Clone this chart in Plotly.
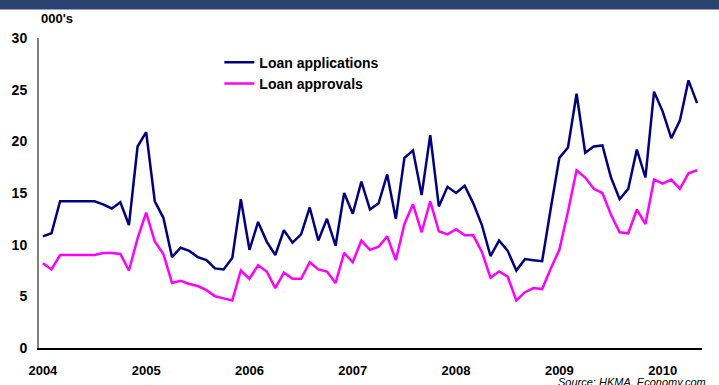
import plotly.graph_objects as go
import pandas as pd

# Monthly data, Jan 2004 - May 2010 (thousands)
months = [d.strftime("%Y-%m") for d in pd.date_range("2004-01-01", "2010-05-01", freq="MS")]

loan_applications = [10.8, 11.1, 14.2, 14.2, 14.2, 14.2, 14.2, 13.9, 13.5, 14.1,
                     11.9, 19.5, 20.9, 14.2, 12.6, 8.8, 9.7, 9.4, 8.8, 8.5,
                     7.7, 7.6, 8.7, 14.4, 9.5, 12.2, 10.3, 9.0, 11.4, 10.2,
                     11.0, 13.6, 10.4, 12.5, 9.9, 15.0, 13.0, 16.1, 13.4, 14.0,
                     16.8, 12.5, 18.4, 19.1, 14.8, 20.6, 13.7, 15.6, 15.0, 15.7,
                     14.0, 11.9, 8.9, 10.4, 9.4, 7.5, 8.6, 8.5, 8.4, 13.5,
                     18.4, 19.4, 24.6, 18.9, 19.5, 19.6, 16.5, 14.4, 15.4, 19.2,
                     16.5, 24.8, 22.9, 20.3, 22.0, 25.9, 23.7]

loan_approvals = [8.2, 7.6, 9.0, 9.0, 9.0, 9.0, 9.0, 9.2, 9.2, 9.1,
                  7.5, 10.6, 13.1, 10.3, 9.1, 6.3, 6.5, 6.2, 6.0, 5.6,
                  5.0, 4.8, 4.6, 7.5, 6.7, 8.0, 7.4, 5.8, 7.3, 6.7,
                  6.7, 8.3, 7.6, 7.4, 6.3, 9.2, 8.3, 10.4, 9.5, 9.8,
                  10.8, 8.5, 12.0, 13.9, 11.2, 14.2, 11.3, 11.0, 11.5, 10.9,
                  10.9, 9.3, 6.8, 7.4, 6.9, 4.6, 5.4, 5.8, 5.7, 7.7,
                  9.5, 13.2, 17.2, 16.5, 15.4, 15.0, 12.9, 11.2, 11.1, 13.4,
                  12.0, 16.3, 15.9, 16.3, 15.4, 16.9, 17.2]

year_ticks = ["2004-01", "2005-01", "2006-01", "2007-01", "2008-01", "2009-01", "2010-01"]
year_labels = ["2004", "2005", "2006", "2007", "2008", "2009", "2010"]
y_ticks = [0, 5, 10, 15, 20, 25, 30]

FONT = "Liberation Sans, Arial, sans-serif"

fig = go.Figure()
fig.add_trace(go.Scatter(x=months, y=loan_applications, mode="lines",
                         name="Loan applications",
                         line=dict(color="#000080", width=2.5)))
fig.add_trace(go.Scatter(x=months, y=loan_approvals, mode="lines",
                         name="Loan approvals",
                         line=dict(color="#FF00FF", width=2.5)))

fig.update_layout(
    width=719, height=385,
    margin=dict(l=39, r=17, t=38, b=37, autoexpand=False),
    paper_bgcolor="white", plot_bgcolor="white",
    font=dict(family=FONT, color="black"),
    showlegend=True,
    legend=dict(x=0.272, y=0.972, xanchor="left", yanchor="top",
                bgcolor="rgba(0,0,0,0)",
                font=dict(family=FONT, size=14, color="black", weight="bold"),
                tracegroupgap=0, itemwidth=30),
    shapes=[dict(type="rect", xref="paper", yref="paper",
                 x0=-0.1, x1=1.1, y0=(348 - 9.5) / 310, y1=1.3,
                 fillcolor="#2B4370", line=dict(width=0), layer="above")],
    annotations=[
        dict(text="000's", xref="paper", yref="paper", x=0.0, y=(348 - 18) / 310,
             xanchor="left", yanchor="middle", showarrow=False,
             font=dict(family=FONT, size=13, color="black", weight="bold")),
        dict(text="<i>Source: HKMA, Economy.com</i>", xref="paper", yref="paper",
             x=(708 - 39) / 663, y=(348 - 374) / 310,
             xanchor="right", yanchor="top", showarrow=False,
             font=dict(family=FONT, size=11, color="black")),
    ],
)

fig.update_xaxes(type="category", range=[-0.45, 76.57], automargin=False,
                 tickmode="array", tickvals=year_ticks, ticktext=year_labels,
                 showline=True, linecolor="black", linewidth=1.5,
                 showgrid=False, zeroline=False, ticks="",
                 ticklabelstandoff=10,
                 tickfont=dict(family=FONT, size=13, color="black", weight="bold"))
fig.update_yaxes(range=[0, 30], tickmode="array", tickvals=y_ticks, automargin=False,
                 showline=True, linecolor="#808080", linewidth=2,
                 showgrid=False, zeroline=False, ticks="",
                 ticklabelstandoff=7,
                 tickfont=dict(family=FONT, size=14, color="black", weight="bold"))

fig.write_html("out.html", config={"displayModeBar": False},
               post_script="document.body.style.margin='0';document.body.style.overflow='hidden';")
